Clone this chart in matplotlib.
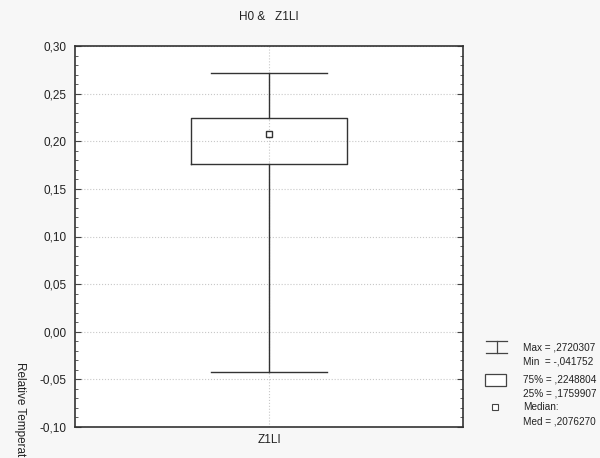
#!/usr/bin/env python3
import matplotlib
matplotlib.use("Agg")
import matplotlib.pyplot as plt
from matplotlib.ticker import MultipleLocator, FuncFormatter
from matplotlib.lines import Line2D
from matplotlib.patches import Rectangle

# data
group = "Z1LI"
title = "H0 &   Z1LI"
ylabel = "Relative Temperature"
q_max = 0.2720307
q_min = -0.041752
q75 = 0.2248804
q25 = 0.1759907
med = 0.2076270
legend_lines = [("Max = ,2720307", "Min  = -,041752"),
                ("75% = ,2248804", "25% = ,1759907"),
                ("Median:", "Med = ,2076270")]

plt.rcParams['font.family'] = ['Liberation Sans', 'DejaVu Sans']
plt.rcParams['font.size'] = 8.5

fig = plt.figure(figsize=(6, 4.58), dpi=100, facecolor='#f7f7f7')
ax = fig.add_axes([75/600, 1 - 427/458, (463-75)/600, (427-46)/458])
ax.set_facecolor('white')

stats = [{'label': group, 'med': med, 'q1': q25, 'q3': q75,
          'whislo': q_min, 'whishi': q_max, 'fliers': []}]
lc = '#333333'
ax.bxp(stats, positions=[1], widths=0.40, capwidths=0.30,
       boxprops=dict(color=lc, linewidth=1),
       whiskerprops=dict(color=lc, linewidth=1),
       capprops=dict(color=lc, linewidth=1),
       medianprops=dict(linestyle='none'),
       showfliers=False, zorder=3)
ax.plot([1], [med], marker='s', markersize=5, markerfacecolor='white',
        markeredgecolor=lc, markeredgewidth=1, linestyle='none', zorder=4)

ax.set_xlim(0.5, 1.5)
ax.set_ylim(-0.10, 0.30)
ax.yaxis.set_major_locator(MultipleLocator(0.05))
ax.yaxis.set_minor_locator(MultipleLocator(0.01))
ax.yaxis.set_major_formatter(FuncFormatter(lambda v, p: ("%.2f" % v).replace('.', ',').replace('-0,00', '0,00')))
ax.tick_params(axis='y', which='both', direction='in', right=True, colors='#444444', labelcolor='#222222')
ax.tick_params(axis='y', which='major', length=4, pad=6)
ax.tick_params(axis='y', which='minor', length=2)
ax.tick_params(axis='x', length=0, pad=5, labelcolor='#222222')
ax.grid(True, linestyle=':', color='#c8c8c8', linewidth=0.8)
ax.set_axisbelow(True)
for s in ax.spines.values():
    s.set_color('#333333')
    s.set_linewidth(1.2)

fig.text(269/600, 1 - 17/458, title, ha='center', va='center', color='#222222')
fig.text(20/600, 1 - 362/458, ylabel, rotation=270, ha='center', va='top', color='#222222')

# legend at right
ic = '#444444'
fig.add_artist(Line2D([486/600, 507/600], [1 - 341/458, 1 - 341/458], color=ic, lw=0.9))
fig.add_artist(Line2D([486/600, 507/600], [1 - 353/458, 1 - 353/458], color=ic, lw=0.9))
fig.add_artist(Line2D([496.5/600, 496.5/600], [1 - 341/458, 1 - 353/458], color=ic, lw=0.9))
fig.add_artist(Rectangle((485/600, 1 - 386/458), 21/600, 12/458, facecolor='white', edgecolor=ic, lw=0.9))
fig.add_artist(Line2D([495/600], [1 - 407/458], marker='s', markersize=4, markerfacecolor='white',
                      markeredgecolor=ic, markeredgewidth=0.8))
ys = [(347, 362), (380, 394), (407, 421)]
for (a, b), (ya, yb) in zip(legend_lines, ys):
    fig.text(523/600, 1 - ya/458, a, va='center', color='#222222', fontsize=7.2)
    fig.text(523/600, 1 - yb/458, b, va='center', color='#222222', fontsize=7.2)

fig.savefig("out.png", dpi=100, facecolor=fig.get_facecolor())
